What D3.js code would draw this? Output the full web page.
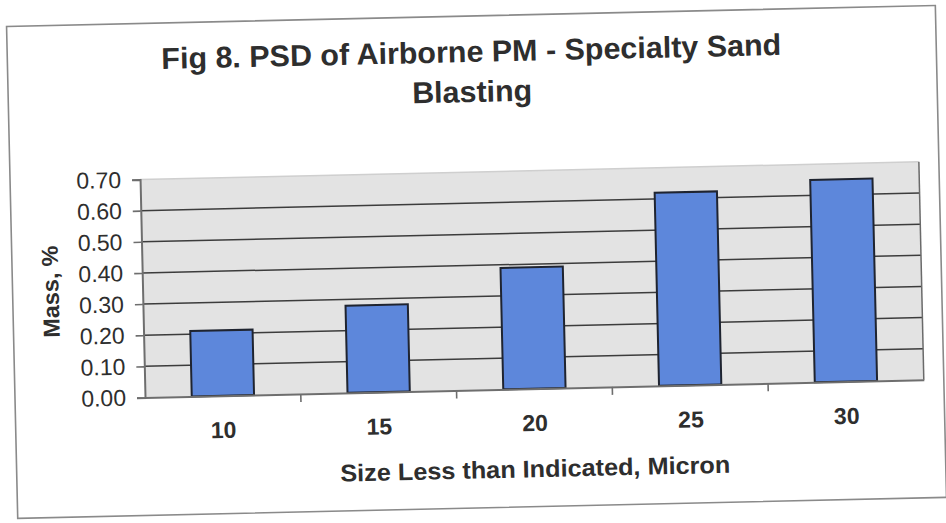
<!DOCTYPE html>
<html>
<head>
<meta charset="utf-8">
<script src="https://cdn.jsdelivr.net/npm/d3@7/dist/d3.min.js"></script>
<style>
  html, body { margin: 0; padding: 0; background: #ffffff; }
  svg { display: block; }
  text { font-family: "Liberation Sans", Arial, sans-serif; fill: #2e2e2e; }
</style>
</head>
<body>
<svg id="chart" width="946" height="523"></svg>
<script>
// Particle size distribution: mass fraction below each size cut
const categories = ["10", "15", "20", "25", "30"];
const massPercent = [0.21, 0.28, 0.39, 0.62, 0.65];
const yTickValues = [0.00, 0.10, 0.20, 0.30, 0.40, 0.50, 0.60, 0.70];
const titleLines = ["Fig 8. PSD of Airborne PM - Specialty Sand", "Blasting"];
const xAxisTitle = "Size Less than Indicated, Micron";
const yAxisTitle = "Mass, %";

const svg = d3.select("#chart");
// the printed page sits slightly askew
const page = svg.append("g").attr("transform", "rotate(-1.3 473 261)");

// outer chart frame
page.append("rect")
  .attr("x", 12).attr("y", 16)
  .attr("width", 929).attr("height", 492)
  .attr("fill", "#ffffff")
  .attr("stroke", "#8a8a8a")
  .attr("stroke-width", 1.6);

const plot = { left: 142, right: 921, top: 172, bottom: 390 };

const x = d3.scaleBand()
  .domain(categories)
  .range([plot.left, plot.right])
  .paddingInner(0.6)
  .paddingOuter(0.3);

const y = d3.scaleLinear()
  .domain([0, 0.7])
  .range([plot.bottom, plot.top]);

// plot area background
page.append("rect")
  .attr("x", plot.left).attr("y", plot.top)
  .attr("width", plot.right - plot.left)
  .attr("height", plot.bottom - plot.top)
  .attr("fill", "#e3e3e3");

// horizontal gridlines
page.append("g")
  .selectAll("line")
  .data(yTickValues.filter(v => v > 0))
  .join("line")
  .attr("x1", plot.left).attr("x2", plot.right)
  .attr("y1", d => y(d)).attr("y2", d => y(d))
  .attr("stroke", d => d >= 0.7 ? "#cfcfcf" : "#3c3c3c")
  .attr("stroke-width", 1.5);

// right edge of the plot area
page.append("line")
  .attr("x1", plot.right).attr("x2", plot.right)
  .attr("y1", plot.top).attr("y2", plot.bottom)
  .attr("stroke", "#6a6a6a")
  .attr("stroke-width", 1.5);

// bars
page.append("g")
  .selectAll("rect")
  .data(categories.map((c, i) => ({ c, v: massPercent[i] })))
  .join("rect")
  .attr("x", d => x(d.c))
  .attr("y", d => y(d.v))
  .attr("width", x.bandwidth())
  .attr("height", d => y(0) - y(d.v))
  .attr("fill", "#5d87db")
  .attr("stroke", "#1f2430")
  .attr("stroke-width", 2);

// y axis
const yAxis = page.append("g")
  .attr("transform", `translate(${plot.left},0)`)
  .call(d3.axisLeft(y)
    .tickValues(yTickValues)
    .tickFormat(d3.format(".2f"))
    .tickSize(8)
    .tickPadding(11));
yAxis.select(".domain").attr("stroke", "#6e6e6e").attr("stroke-width", 2);
yAxis.selectAll(".tick line").attr("stroke", "#6e6e6e").attr("stroke-width", 1.6);
yAxis.selectAll(".tick text")
  .attr("font-size", 23)
  .attr("fill", "#222222");

// x axis: labels centred under bars, ticks on category boundaries
const xAxis = page.append("g")
  .attr("transform", `translate(0,${plot.bottom})`)
  .call(d3.axisBottom(x).tickSize(0).tickPadding(26));
xAxis.select(".domain").attr("stroke", "#6e6e6e").attr("stroke-width", 2);
xAxis.selectAll(".tick text")
  .attr("font-size", 23)
  .attr("font-weight", "bold")
  .attr("fill", "#262626");

const boundaries = d3.range(categories.length + 1).map(i => plot.left + i * x.step());
page.append("g")
  .selectAll("line")
  .data(boundaries.slice(1, -1))
  .join("line")
  .attr("x1", d => d).attr("x2", d => d)
  .attr("y1", plot.bottom).attr("y2", plot.bottom + 8)
  .attr("stroke", "#6e6e6e")
  .attr("stroke-width", 1.6);

// chart title
page.append("g")
  .selectAll("text")
  .data(titleLines)
  .join("text")
  .attr("x", 476)
  .attr("y", (d, i) => 62 + i * 40)
  .attr("text-anchor", "middle")
  .attr("font-size", 30)
  .attr("font-weight", "bold")
  .attr("fill", "#3a3a3a")
  .attr("textLength", (d, i) => i === 0 ? 620 : 120)
  .attr("lengthAdjust", "spacingAndGlyphs")
  .text(d => d);

// axis titles
page.append("text")
  .attr("x", (plot.left + plot.right) / 2 - 1)
  .attr("y", 470)
  .attr("text-anchor", "middle")
  .attr("dominant-baseline", "central")
  .attr("font-size", 24)
  .attr("font-weight", "bold")
  .attr("fill", "#3a3a3a")
  .attr("textLength", 390)
  .attr("lengthAdjust", "spacingAndGlyphs")
  .text(xAxisTitle);

page.append("text")
  .attr("transform", "translate(50,282) rotate(-90)")
  .attr("text-anchor", "middle")
  .attr("dominant-baseline", "central")
  .attr("font-size", 23)
  .attr("font-weight", "bold")
  .attr("fill", "#3a3a3a")
  .attr("textLength", 92)
  .attr("lengthAdjust", "spacingAndGlyphs")
  .text(yAxisTitle);
</script>
</body>
</html>
